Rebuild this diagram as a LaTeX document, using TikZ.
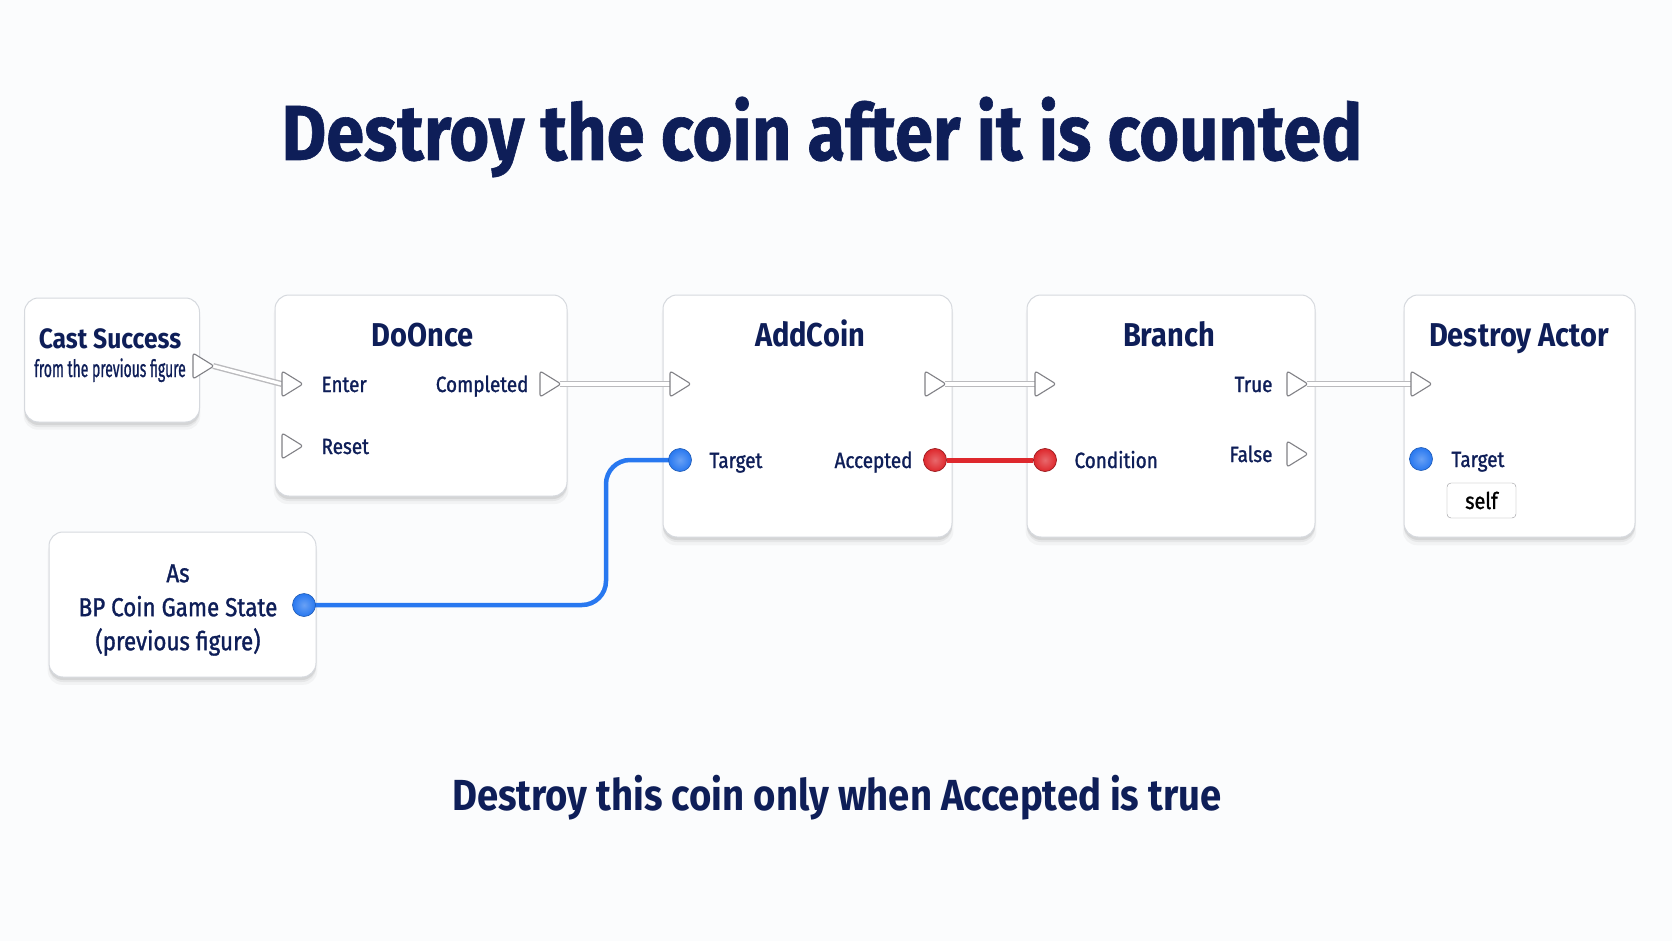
\documentclass[tikz,border=0pt]{standalone}
\usepackage{fontspec}
\setmainfont{Fira Sans}[FakeStretch=0.88]
\newfontfamily\narrowfont{Fira Sans}[FakeStretch=0.58, FakeBold=0.8]
\newfontfamily\medfont{Fira Sans}[FakeStretch=0.86, FakeBold=1.2]
\newfontfamily\heavyfont{Fira Sans Bold}[FakeStretch=0.88, FakeBold=0.8]
\usetikzlibrary{shapes.geometric,shadows}
\definecolor{navy}{RGB}{14,30,88}
\definecolor{pinblue}{RGB}{40,120,240}
\definecolor{pinred}{RGB}{222,40,45}
\definecolor{boxline}{RGB}{214,217,222}
\definecolor{bgcol}{RGB}{251,252,253}
\definecolor{execline}{RGB}{130,130,135}
\pgfdeclarelayer{back}
\pgfdeclarelayer{mid}
\pgfsetlayers{back,mid,main}
\tikzset{
  box/.style={draw=boxline, line width=1pt, fill=white, rounded corners=14pt,
    drop shadow={shadow xshift=0pt, shadow yshift=-7pt, opacity=0.035, fill=black, shadow scale=1.01},
    drop shadow={shadow xshift=0pt, shadow yshift=-5pt, opacity=0.05, fill=black},
    drop shadow={shadow xshift=0pt, shadow yshift=-3pt, opacity=0.07, fill=black},
    inner sep=0pt},
  execpin/.style={rectangle, minimum width=20pt, minimum height=24pt, inner sep=0pt},
  tri/.style={draw=execline, fill=white, line width=1.1pt, rounded corners=2.5pt, line join=round},
  bluepin/.style={circle, minimum size=23pt, inner sep=0pt, draw=pinblue!75!black, line width=0.6pt,
    inner color=pinblue!70!white, outer color=pinblue},
  redpin/.style={circle, minimum size=23pt, inner sep=0pt, draw=pinred!70!black, line width=0.7pt,
    inner color=pinred!70!white, outer color=pinred},
  execwire/.style={draw=execline!55, double=white, double distance=3.2pt, line width=1.4pt},
  bluewire/.style={draw=pinblue, line width=4.5pt, rounded corners=24pt},
  redwire/.style={draw=pinred, line width=5pt},
  ttl/.style={text=navy, font=\bfseries\fontsize{33}{38}\selectfont, anchor=base},
  lbl/.style={text=navy, font=\medfont\fontsize{22}{26}\selectfont, anchor=base},
}
\begin{document}
\begin{tikzpicture}[x=1pt,y=-1pt]
\begin{pgfonlayer}{back}
\fill[bgcol] (0,0) rectangle (1672,941);
\end{pgfonlayer}
\useasboundingbox (0,0) rectangle (1672,941);

\node[text=navy, font=\heavyfont\fontsize{78}{94}\selectfont, anchor=base] (title) at (822,160) {Destroy the coin after it is counted};
\node[text=navy, font=\bfseries\fontsize{43.5}{50}\selectfont, anchor=base] (note) at (837,810) {Destroy this coin only when Accepted is true};

\begin{pgfonlayer}{back}
\node[box, minimum width=175pt, minimum height=124pt] (cast) at (112,360) {};
\node[box, minimum width=292pt, minimum height=201pt] (doonce) at (421,395.5) {};
\node[box, minimum width=289pt, minimum height=242pt] (addcoin) at (807.5,416) {};
\node[box, minimum width=288pt, minimum height=242pt] (branch) at (1171,416) {};
\node[box, minimum width=231pt, minimum height=242pt] (destroy) at (1519.5,416) {};
\node[box, minimum width=267pt, minimum height=145pt] (asbox) at (182.5,604.5) {};
\end{pgfonlayer}

% titles
\node[text=navy, font=\bfseries\fontsize{28}{32}\selectfont, anchor=base] (castT) at (110,348) {Cast Success};
\node[text=navy, font=\narrowfont\fontsize{24}{26}\selectfont, anchor=base] (castS) at (110,377) {from the previous figure};
\node[ttl] (doT) at (423,346) {DoOnce};
\node[ttl] (acT) at (810,346) {AddCoin};
\node[ttl] (brT) at (1169,346) {Branch};
\node[ttl] (daT) at (1519,346) {Destroy Actor};
\node[text=navy, font=\medfont\fontsize{26}{34}\selectfont, align=center] (asT) at (178,610) {As\\BP Coin Game State\\(previous figure)};

% pins
\node[execpin] (castout) at (203,366) {};
\node[execpin] (enter) at (292,384) {};
\node[execpin] (reset) at (292,446) {};
\node[execpin] (completed) at (550,384) {};
\node[execpin] (acin) at (680,384) {};
\node[execpin] (acout) at (935,384) {};
\node[execpin] (brin) at (1045,384) {};
\node[execpin] (true) at (1297,384) {};
\node[execpin] (false) at (1297,454) {};
\node[execpin] (dain) at (1421,384) {};
\foreach \p in {castout,enter,reset,completed,acin,acout,brin,true,false,dain}
  \draw[tri] ([shift={(-10,-13)}]\p.center) -- ([shift={(11,0)}]\p.center) -- ([shift={(-10,13)}]\p.center) -- cycle;
\node[bluepin] (actarget) at (680,460) {};
\node[redpin] (accepted) at (935,460) {};
\node[redpin] (condition) at (1045,460) {};
\node[bluepin] (datarget) at (1421,459) {};
\node[bluepin] (aspin) at (304,605) {};

% labels
\node[lbl, anchor=base west] (lEnter) at (318,392) {Enter};
\node[lbl, anchor=base west] (lReset) at (318,454) {Reset};
\node[lbl, anchor=base east] (lCompleted) at (532,392) {Completed};
\node[lbl, anchor=base west] (lTarget) at (706,468) {Target};
\node[lbl, anchor=base east] (lAccepted) at (916,468) {Accepted};
\node[lbl, anchor=base west] (lCondition) at (1071,468) {Condition};
\node[lbl, anchor=base east] (lTrue) at (1276,392) {True};
\node[lbl, anchor=base east] (lFalse) at (1276,462) {False};
\node[lbl, anchor=base west] (lTarget2) at (1448,467) {Target};
\node[draw=execline!80, fill=white, rounded corners=4pt, minimum width=69pt, minimum height=35pt,
  inner sep=0pt, text=black, font=\medfont\fontsize{23}{26}\selectfont] (self) at (1481.5,500.5) {self};

% wires
\begin{pgfonlayer}{mid}
\draw[execwire] (castout.east) -- (enter.west);
\draw[execwire] (completed.east) -- (acin.west);
\draw[execwire] (acout.east) -- (brin.west);
\draw[execwire] (true.east) -- (dain.west);
\draw[redwire] (accepted.east) -- (condition.west);
\draw[bluewire] (aspin.center) -- (606,605) -- (606,460) -- (actarget.center);
\end{pgfonlayer}
\end{tikzpicture}
\end{document}
